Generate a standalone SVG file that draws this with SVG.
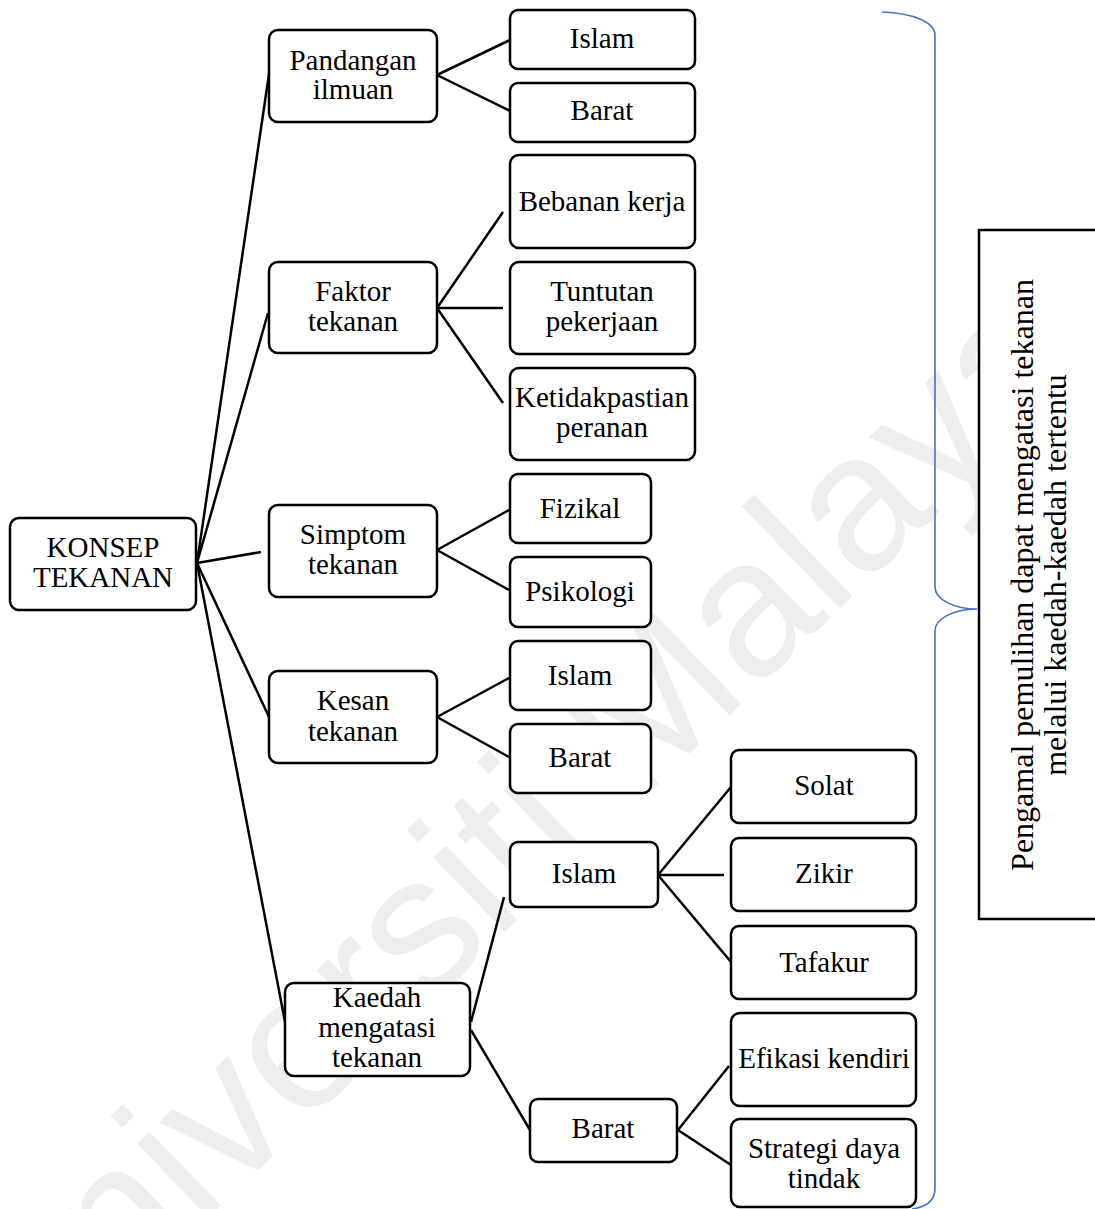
<svg xmlns="http://www.w3.org/2000/svg" width="1095" height="1209" viewBox="0 0 1095 1209">
  <style>
    .box { fill: #ffffff; stroke: #000000; stroke-width: 2.5; }
    .lbl { font-size: 29px; fill: #000000; text-anchor: middle; }
    .note { font-size: 32px; fill: #000000; text-anchor: middle; }
    .wire { stroke: #000000; stroke-width: 2.5; fill: none; }
    .brace { stroke: #4472C4; stroke-width: 1.6; fill: none; }
    .mark { font-size: 195px; fill: #eeeeee; }
  </style>

  <rect width="1095" height="1209" fill="#ffffff"/>

  <!-- background watermark -->
  <text class="mark" font-family="Liberation Sans, Arial, sans-serif" transform="translate(20 1400) rotate(-44)">Universiti Malaya</text>

  <!-- connectors -->
  <g id="connectors">
    <line class="wire" x1="197" y1="563" x2="269" y2="74"/>
    <line class="wire" x1="197" y1="563" x2="268" y2="313"/>
    <line class="wire" x1="197" y1="563" x2="261" y2="552"/>
    <line class="wire" x1="197" y1="563" x2="269" y2="717"/>
    <line class="wire" x1="197" y1="563" x2="286" y2="1027"/>

    <line class="wire" x1="437" y1="75" x2="510" y2="40"/>
    <line class="wire" x1="437" y1="75" x2="510" y2="111"/>

    <line class="wire" x1="437" y1="308" x2="503" y2="212"/>
    <line class="wire" x1="437" y1="308" x2="503" y2="308"/>
    <line class="wire" x1="437" y1="308" x2="503" y2="403"/>

    <line class="wire" x1="437" y1="550" x2="509" y2="510"/>
    <line class="wire" x1="437" y1="550" x2="509" y2="590"/>

    <line class="wire" x1="437" y1="717" x2="509" y2="678"/>
    <line class="wire" x1="437" y1="717" x2="509" y2="757"/>

    <line class="wire" x1="471" y1="1022" x2="504" y2="897"/>
    <line class="wire" x1="471" y1="1030" x2="530" y2="1130"/>

    <line class="wire" x1="658" y1="875" x2="731" y2="787"/>
    <line class="wire" x1="658" y1="875" x2="724" y2="875"/>
    <line class="wire" x1="658" y1="875" x2="731" y2="962"/>

    <line class="wire" x1="678" y1="1130" x2="729" y2="1066"/>
    <line class="wire" x1="678" y1="1130" x2="731" y2="1165"/>

    <!-- curly brace -->
    <path class="brace" d="M 882 12 C 912 13, 935 22, 935 35 L 935 587 C 935 600, 955 609, 977 609 C 955 609, 935 618, 935 631 L 935 1188 C 935 1200, 927 1207, 912 1209"/>
  </g>

  <g font-family="Liberation Serif, Tinos, Times New Roman, DejaVu Serif, serif">
  <!-- root -->
  <g id="konsep-tekanan">
    <rect class="box" x="10" y="518" width="186" height="92" rx="9"/>
    <text class="lbl" x="103" y="557">KONSEP</text>
    <text class="lbl" x="103" y="587">TEKANAN</text>
  </g>

  <!-- first level -->
  <g id="pandangan-ilmuan">
    <rect class="box" x="269" y="30" width="168" height="92" rx="9"/>
    <text class="lbl" x="353" y="70">Pandangan</text>
    <text class="lbl" x="353" y="99">ilmuan</text>
  </g>
  <g id="faktor-tekanan">
    <rect class="box" x="269" y="262" width="168" height="91" rx="9"/>
    <text class="lbl" x="353" y="301">Faktor</text>
    <text class="lbl" x="353" y="331">tekanan</text>
  </g>
  <g id="simptom-tekanan">
    <rect class="box" x="269" y="505" width="168" height="92" rx="9"/>
    <text class="lbl" x="353" y="544">Simptom</text>
    <text class="lbl" x="353" y="574">tekanan</text>
  </g>
  <g id="kesan-tekanan">
    <rect class="box" x="269" y="671" width="168" height="92" rx="9"/>
    <text class="lbl" x="353" y="710">Kesan</text>
    <text class="lbl" x="353" y="741">tekanan</text>
  </g>
  <g id="kaedah-mengatasi">
    <rect class="box" x="285" y="983" width="185" height="93" rx="9"/>
    <text class="lbl" x="377" y="1007">Kaedah</text>
    <text class="lbl" x="377" y="1037">mengatasi</text>
    <text class="lbl" x="377" y="1067">tekanan</text>
  </g>

  <!-- second level -->
  <g id="pandangan-islam">
    <rect class="box" x="510" y="10" width="185" height="59" rx="8"/>
    <text class="lbl" x="602" y="48">Islam</text>
  </g>
  <g id="pandangan-barat">
    <rect class="box" x="510" y="83" width="185" height="59" rx="8"/>
    <text class="lbl" x="602" y="120">Barat</text>
  </g>
  <g id="bebanan-kerja">
    <rect class="box" x="510" y="155" width="185" height="93" rx="9"/>
    <text class="lbl" x="602" y="211">Bebanan kerja</text>
  </g>
  <g id="tuntutan-pekerjaan">
    <rect class="box" x="510" y="262" width="185" height="92" rx="9"/>
    <text class="lbl" x="602" y="301">Tuntutan</text>
    <text class="lbl" x="602" y="331">pekerjaan</text>
  </g>
  <g id="ketidakpastian-peranan">
    <rect class="box" x="510" y="368" width="185" height="92" rx="9"/>
    <text class="lbl" x="602" y="407">Ketidakpastian</text>
    <text class="lbl" x="602" y="437">peranan</text>
  </g>
  <g id="fizikal">
    <rect class="box" x="510" y="474" width="141" height="69" rx="8"/>
    <text class="lbl" x="580" y="518">Fizikal</text>
  </g>
  <g id="psikologi">
    <rect class="box" x="510" y="557" width="141" height="70" rx="8"/>
    <text class="lbl" x="580" y="601">Psikologi</text>
  </g>
  <g id="kesan-islam">
    <rect class="box" x="510" y="641" width="141" height="69" rx="8"/>
    <text class="lbl" x="580" y="685">Islam</text>
  </g>
  <g id="kesan-barat">
    <rect class="box" x="510" y="724" width="141" height="69" rx="8"/>
    <text class="lbl" x="580" y="767">Barat</text>
  </g>
  <g id="kaedah-islam">
    <rect class="box" x="510" y="842" width="148" height="65" rx="8"/>
    <text class="lbl" x="584" y="883">Islam</text>
  </g>
  <g id="kaedah-barat">
    <rect class="box" x="530" y="1099" width="147" height="63" rx="8"/>
    <text class="lbl" x="603" y="1138">Barat</text>
  </g>

  <!-- third level -->
  <g id="solat">
    <rect class="box" x="731" y="750" width="185" height="73" rx="8"/>
    <text class="lbl" x="824" y="795">Solat</text>
  </g>
  <g id="zikir">
    <rect class="box" x="731" y="838" width="185" height="73" rx="8"/>
    <text class="lbl" x="824" y="883">Zikir</text>
  </g>
  <g id="tafakur">
    <rect class="box" x="731" y="926" width="185" height="73" rx="8"/>
    <text class="lbl" x="824" y="972">Tafakur</text>
  </g>
  <g id="efikasi-kendiri">
    <rect class="box" x="731" y="1013" width="185" height="93" rx="9"/>
    <text class="lbl" x="824" y="1068">Efikasi kendiri</text>
  </g>
  <g id="strategi-daya-tindak">
    <rect class="box" x="731" y="1119" width="185" height="88" rx="9"/>
    <text class="lbl" x="824" y="1158">Strategi daya</text>
    <text class="lbl" x="824" y="1188">tindak</text>
  </g>

  <!-- summary box -->
  <g id="pengamal">
    <rect x="979" y="230" width="130" height="689" fill="#ffffff" stroke="#000000" stroke-width="2.5"/>
    <text class="note" transform="translate(1033 575) rotate(-90)">Pengamal pemulihan dapat mengatasi tekanan</text>
    <text class="note" transform="translate(1066 575) rotate(-90)">melalui kaedah-kaedah tertentu</text>
  </g>
  </g>
</svg>
